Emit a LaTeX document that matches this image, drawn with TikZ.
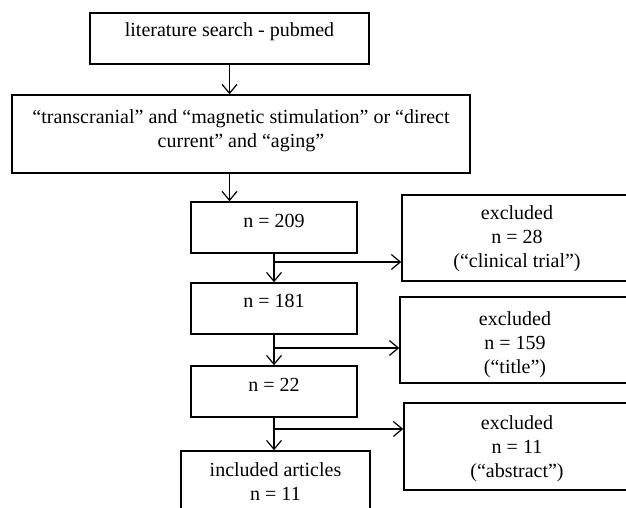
\documentclass[tikz,border=0pt]{standalone}
\usepackage{fontspec}
\setmainfont{Liberation Serif}
\usetikzlibrary{arrows.meta}

\begin{document}
\begin{tikzpicture}[x=1pt, y=-1pt, line width=1.2pt,
        every node/.style={rectangle, draw, line width=1.5pt, inner sep=0pt, align=center, font=\fontsize{20}{24}\selectfont},
        arr/.style={-{Straight Barb[length=9pt, width=15pt]}}]
        \useasboundingbox (0,0) rectangle (626,508);
        \clip (0,0) rectangle (626,508);

        % Wyszukiwanie
        \node[minimum width=279pt, text height=24pt, text depth=27pt] (search) at (229.5,38.5) {literature search - pubmed};
        \node[minimum width=458pt, text height=52pt, text depth=26pt] (query) at (241,134) {“transcranial” and “magnetic stimulation” or “direct\\current” and “aging”};

        % Kolejne etapy
        \node[minimum width=166pt, text height=25pt, text depth=26pt] (n209) at (274,227.5) {n = 209};
        \node[minimum width=166pt, text height=24pt, text depth=27pt] (n181) at (274,308.5) {n = 181};
        \node[minimum width=166pt, text height=25pt, text depth=26pt] (n22) at (274,391.5) {n = 22};
        \node[minimum width=189pt, text height=49pt, text depth=30pt] (incl) at (275.5,490.5) {included articles\\n = 11};

        % Wykluczone
        \node[minimum width=230pt, text height=72pt, text depth=14pt] (ex1) at (517,238) {excluded\\n = 28\\(“clinical trial”)};
        \node[minimum width=230pt, text height=76pt, text depth=10pt] (ex2) at (515,340) {excluded\\n = 159\\(“title”)};
        \node[minimum width=226pt, text height=74pt, text depth=13pt] (ex3) at (517,446.5) {excluded\\n = 11\\(“abstract”)};

        \coordinate (b1) at (274,262);
        \coordinate (b2) at (274,348);
        \coordinate (b3) at (275,429);

        \draw[arr] (search.south) -- (search.south |- query.north);
        \draw[arr] (search.south |- query.south) -- (search.south |- n209.north);
        \draw[arr] (n209) -- (n181);
        \draw[arr] (n181) -- (n22);
        \draw[arr] (n22.south) -- (n22.south |- incl.north);
        \draw[arr] (b1) -- (b1 -| ex1.west);
        \draw[arr] (b2) -- (b2 -| ex2.west);
        \draw[arr] (b3) -- (b3 -| ex3.west);
    \end{tikzpicture}
\end{document}
